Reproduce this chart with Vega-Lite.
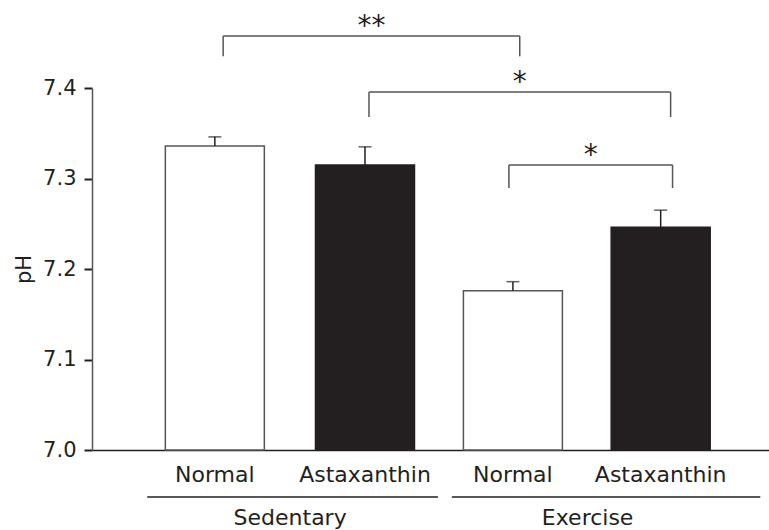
{
  "$schema": "https://vega.github.io/schema/vega-lite/v6.json",
  "width": 677,
  "height": 362,
  "autosize": {"type": "none"},
  "padding": {"left": 92, "top": 88, "right": 0, "bottom": 80},
  "background": "white",
  "config": {"view": {"stroke": null}, "font": "DejaVu Sans"},
  "datasets": {
    "bars": [
      {"group": "Sedentary", "treatment": "Normal", "x": 0.795, "pH": 7.336, "upper": 7.346},
      {"group": "Sedentary", "treatment": "Astaxanthin", "x": 1.808, "pH": 7.315, "upper": 7.335},
      {"group": "Exercise", "treatment": "Normal", "x": 2.806, "pH": 7.176, "upper": 7.186},
      {"group": "Exercise", "treatment": "Astaxanthin", "x": 3.803, "pH": 7.246, "upper": 7.265}
    ],
    "groups": [
      {"group": "Sedentary", "start": 0.339, "end": 2.3, "mid": 1.303},
      {"group": "Exercise", "start": 2.394, "end": 4.475, "mid": 3.31}
    ],
    "brackets": [
      {"label": "**", "left": 0.851, "right": 2.852, "mid": 1.852, "top": 7.4575, "tip": 7.435},
      {"label": "*", "left": 1.835, "right": 3.87, "mid": 2.852, "top": 7.3956, "tip": 7.368},
      {"label": "*", "left": 2.779, "right": 3.883, "mid": 3.331, "top": 7.315, "tip": 7.2895}
    ]
  },
  "layer": [
    {
      "data": {"name": "bars"},
      "mark": {"type": "bar", "size": 99, "strokeWidth": 1.5},
      "encoding": {
        "x": {"field": "x", "type": "quantitative", "title": null, "scale": {"domain": [0, 4.5], "nice": false, "zero": false},
          "axis": {"title": null, "labels": false, "ticks": false, "grid": false, "domainColor": "#231f20", "domainWidth": 1.5}},
        "y": {"field": "pH", "type": "quantitative", "title": "pH", "scale": {"domain": [7.0, 7.4], "nice": false, "zero": false},
          "axis": {"title": "pH", "values": [7.0, 7.1, 7.2, 7.3, 7.4], "format": ".1f", "grid": false, "tickSize": 8, "tickWidth": 2,
            "tickColor": "#231f20", "domainColor": "#555555", "domainWidth": 1.5, "labelFontSize": 21, "labelColor": "#231f20",
            "labelPadding": 8, "titleFontSize": 21, "titleFontWeight": "normal", "titleColor": "#231f20", "titlePadding": 8}},
        "y2": {"datum": 7.0},
        "fill": {"field": "treatment", "type": "nominal", "scale": {"domain": ["Normal", "Astaxanthin"], "range": ["#ffffff", "#231f20"]}, "legend": null},
        "stroke": {"field": "treatment", "type": "nominal", "scale": {"domain": ["Normal", "Astaxanthin"], "range": ["#555555", "#231f20"]}, "legend": null}
      }
    },
    {
      "data": {"name": "bars"},
      "mark": {"type": "rule", "color": "#231f20", "strokeWidth": 1.5},
      "encoding": {
        "x": {"field": "x", "type": "quantitative", "title": null},
        "y": {"field": "pH", "type": "quantitative", "title": "pH"},
        "y2": {"field": "upper"}
      }
    },
    {
      "data": {"name": "bars"},
      "mark": {"type": "tick", "orient": "horizontal", "size": 13, "thickness": 1.5, "color": "#231f20"},
      "encoding": {
        "x": {"field": "x", "type": "quantitative", "title": null},
        "y": {"field": "upper", "type": "quantitative", "title": "pH"}
      }
    },
    {
      "data": {"name": "bars"},
      "mark": {"type": "text", "fontSize": 22, "color": "#231f20", "baseline": "middle", "dy": 25},
      "encoding": {
        "x": {"field": "x", "type": "quantitative", "title": null},
        "y": {"datum": 7.0, "title": "pH"},
        "text": {"field": "treatment"}
      }
    },
    {
      "data": {"name": "groups"},
      "mark": {"type": "rule", "color": "#231f20", "strokeWidth": 1.5, "yOffset": 47},
      "encoding": {
        "x": {"field": "start", "type": "quantitative", "title": null},
        "x2": {"field": "end"},
        "y": {"datum": 7.0, "title": "pH"}
      }
    },
    {
      "data": {"name": "groups"},
      "mark": {"type": "text", "fontSize": 22, "color": "#231f20", "baseline": "middle", "dy": 68},
      "encoding": {
        "x": {"field": "mid", "type": "quantitative", "title": null},
        "y": {"datum": 7.0, "title": "pH"},
        "text": {"field": "group"}
      }
    },
    {
      "data": {"name": "brackets"},
      "mark": {"type": "rule", "color": "#555555", "strokeWidth": 1.5},
      "encoding": {
        "x": {"field": "left", "type": "quantitative", "title": null},
        "x2": {"field": "right"},
        "y": {"field": "top", "type": "quantitative", "title": "pH"}
      }
    },
    {
      "data": {"name": "brackets"},
      "mark": {"type": "rule", "color": "#555555", "strokeWidth": 1.5},
      "encoding": {
        "x": {"field": "left", "type": "quantitative", "title": null},
        "y": {"field": "top", "type": "quantitative", "title": "pH"},
        "y2": {"field": "tip"}
      }
    },
    {
      "data": {"name": "brackets"},
      "mark": {"type": "rule", "color": "#555555", "strokeWidth": 1.5},
      "encoding": {
        "x": {"field": "right", "type": "quantitative", "title": null},
        "y": {"field": "top", "type": "quantitative", "title": "pH"},
        "y2": {"field": "tip"}
      }
    },
    {
      "data": {"name": "brackets"},
      "mark": {"type": "text", "fontSize": 28, "color": "#231f20", "baseline": "alphabetic", "dy": -1},
      "encoding": {
        "x": {"field": "mid", "type": "quantitative", "title": null},
        "y": {"field": "top", "type": "quantitative", "title": "pH"},
        "text": {"field": "label"}
      }
    }
  ]
}
